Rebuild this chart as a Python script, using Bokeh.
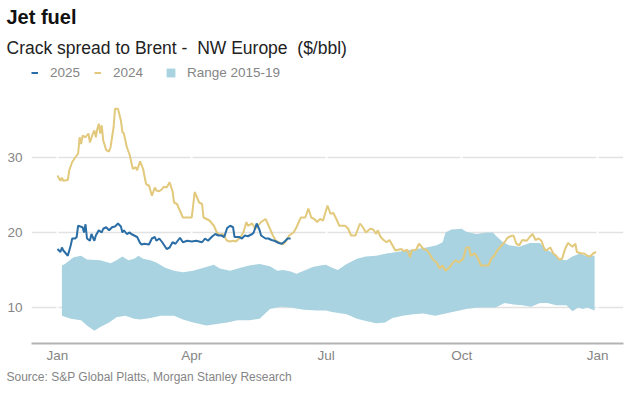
from bokeh.plotting import figure
from bokeh.models import Range1d, FixedTicker, Legend, LegendItem, Title, Grid
from bokeh.embed import file_html
from bokeh.resources import INLINE

TITLE = "Jet fuel"
SUBTITLE = "Crack spread to Brent -\u00a0 NW Europe\u00a0 ($/bbl)"
SOURCE = "Source: S&P Global Platts, Morgan Stanley Research"

TICK_DAYS = [0, 91, 182, 274, 366]
TICK_LABELS = ["Jan", "Apr", "Jul", "Oct", "Jan"]
Y_TICKS = [10, 20, 30]

# (day of year, $/bbl)
SERIES_2024 = [
    (0, 27.6), (2, 26.9), (3, 27.3), (4, 26.9), (7, 27.0), (8, 28.3), (10, 29.4), (12, 30.0),
    (14, 30.5), (15, 32.7), (16, 31.8), (17, 32.9), (19, 32.7), (21, 33.2), (22, 32.0), (24, 33.2),
    (25, 33.6), (26, 32.7), (27, 33.8), (28, 34.5), (29, 33.2), (30, 34.3), (31, 32.3), (33, 31.0),
    (35, 30.8), (36, 31.4), (38, 34.0), (39, 36.5), (41, 36.5), (43, 34.9), (44, 33.4), (45, 33.2),
    (47, 31.4), (49, 30.3), (51, 28.5), (53, 28.7), (54, 28.3), (56, 29.5), (58, 28.5), (60, 26.5),
    (61, 26.3), (62, 26.3), (64, 24.9), (66, 26.0), (67, 25.6), (69, 25.5), (71, 25.8), (72, 26.1),
    (74, 26.0), (76, 26.7), (78, 25.5), (79, 24.0), (81, 23.8), (83, 22.9), (85, 22.0), (88, 22.0),
    (91, 22.0), (93, 25.4), (96, 24.0), (98, 23.8), (99, 22.0), (101, 21.8), (103, 21.6), (106, 20.9),
    (108, 20.0), (110, 19.7), (112, 19.8), (115, 18.9), (117, 18.8), (119, 18.9), (121, 18.8),
    (124, 19.4), (126, 20.0), (128, 21.4), (129, 20.9), (132, 21.2), (134, 20.5), (136, 20.9),
    (138, 21.4), (141, 21.8), (142, 21.4), (144, 20.5), (146, 19.6), (148, 18.9), (151, 18.6),
    (153, 18.4), (155, 18.9), (157, 19.6), (160, 20.0), (162, 20.7), (164, 21.6), (165, 22.0),
    (168, 22.0), (170, 23.2), (172, 22.0), (174, 21.8), (176, 21.4), (178, 21.8), (180, 21.6),
    (183, 23.6), (185, 22.5), (187, 22.6), (189, 21.8), (191, 20.9), (195, 20.9), (197, 20.5),
    (199, 19.6), (202, 19.6), (205, 21.2), (207, 20.7), (209, 20.0), (212, 20.5), (214, 20.4),
    (216, 19.8), (217, 20.3), (219, 19.4), (221, 19.0), (223, 18.7), (225, 19.0), (227, 18.3),
    (229, 17.6), (231, 17.7), (233, 17.8), (235, 17.5), (237, 17.7), (239, 16.7), (240, 17.6),
    (243, 17.7), (245, 18.5), (248, 17.8), (250, 17.7), (252, 17.2), (254, 16.5), (257, 16.0),
    (259, 15.2), (261, 15.6), (263, 14.9), (266, 15.4), (268, 16.0), (270, 16.3), (272, 16.0),
    (275, 16.5), (277, 18.0), (279, 18.0), (280, 16.9), (283, 17.2), (285, 16.5), (287, 15.6),
    (289, 15.6), (292, 15.6), (294, 16.5), (296, 16.9), (298, 17.6), (301, 18.3), (303, 18.7),
    (305, 19.3), (307, 19.5), (309, 19.6), (311, 18.5), (313, 18.3), (315, 19.0), (318, 18.9),
    (320, 19.4), (322, 19.8), (324, 19.0), (326, 19.2), (328, 18.9), (330, 17.8), (331, 17.6),
    (334, 18.0), (336, 17.2), (338, 16.9), (340, 16.4), (342, 16.5), (344, 17.8), (346, 18.6),
    (349, 18.1), (351, 18.5), (352, 17.4), (355, 17.2), (357, 17.2), (359, 16.9), (361, 16.8),
    (363, 17.2), (365, 17.4),
]

SERIES_2025 = [
    (0, 17.8), (2, 17.4), (3, 18.0), (4, 17.6), (7, 16.9), (9, 18.3), (10, 19.2), (12, 19.2),
    (13, 19.4), (14, 20.9), (17, 20.7), (18, 20.0), (19, 21.1), (20, 19.2), (22, 18.9), (23, 19.8),
    (25, 18.9), (26, 19.6), (28, 20.3), (30, 20.0), (31, 20.5), (33, 20.7), (35, 20.3), (37, 20.7),
    (39, 20.8), (41, 21.2), (43, 20.8), (44, 20.0), (45, 20.3), (47, 19.8), (49, 20.0), (50, 19.8),
    (52, 19.6), (54, 19.4), (56, 18.6), (57, 18.4), (59, 18.5), (62, 18.4), (64, 19.2), (66, 19.4),
    (67, 18.9), (69, 19.2), (71, 18.7), (72, 18.4), (74, 17.8), (76, 18.0), (78, 18.7), (80, 18.5),
    (83, 19.3), (85, 18.7), (88, 18.9), (91, 18.8), (94, 18.9), (98, 18.7), (100, 19.2), (102, 18.9),
    (105, 19.5), (107, 19.8), (109, 19.6), (111, 19.6), (113, 19.4), (115, 20.6), (117, 20.9),
    (119, 20.7), (120, 19.4), (123, 19.4), (125, 19.2), (127, 19.6), (129, 19.5), (132, 19.8),
    (133, 20.0), (135, 21.2), (137, 20.3), (138, 19.6), (141, 19.2), (143, 19.2), (145, 19.0),
    (147, 18.9), (150, 18.6), (152, 18.5), (154, 18.8), (156, 19.2), (158, 19.2),
]

# Range 2015-19: upper and lower envelopes
RANGE_HIGH = [
    (3, 15.6), (5, 15.8), (11, 16.7), (16, 16.9), (20, 16.4), (29, 16.3), (36, 15.9), (40, 16.3),
    (44, 16.8), (48, 16.3), (52, 16.5), (55, 16.9), (58, 16.5), (63, 16.3), (67, 16.0), (73, 15.3),
    (79, 14.9), (85, 14.7), (92, 14.9), (99, 15.3), (106, 15.7), (110, 15.2), (117, 14.9), (124, 15.3),
    (130, 15.6), (137, 15.8), (144, 15.5), (149, 14.9), (153, 15.0), (158, 14.8), (162, 14.5),
    (167, 14.9), (173, 15.4), (178, 15.6), (182, 15.7), (185, 15.4), (190, 15.0), (196, 15.8),
    (203, 16.5), (209, 16.8), (216, 16.9), (223, 17.2), (230, 17.4), (236, 17.6), (243, 17.8),
    (250, 18.0), (257, 18.3), (261, 18.7), (263, 20.0), (267, 20.4), (274, 20.5), (277, 20.1),
    (284, 19.8), (291, 20.0), (295, 20.0), (298, 19.4), (302, 18.7), (306, 18.3), (313, 18.1),
    (320, 18.6), (327, 18.6), (331, 17.8), (336, 17.2), (340, 16.4), (345, 16.3), (349, 16.8),
    (354, 17.2), (358, 16.9), (364, 16.9),
]
RANGE_LOW = [
    (3, 8.9), (9, 8.5), (16, 8.3), (20, 7.6), (25, 6.9), (29, 7.4), (35, 8.0), (40, 8.7), (46, 8.9),
    (52, 8.5), (56, 8.4), (63, 8.6), (70, 8.9), (79, 8.9), (85, 8.4), (92, 8.0), (101, 7.6),
    (108, 7.8), (115, 8.0), (122, 8.3), (130, 8.3), (137, 8.5), (144, 9.8), (151, 10.1), (158, 10.0),
    (167, 9.7), (176, 9.6), (182, 9.6), (186, 9.4), (196, 9.1), (203, 8.5), (209, 8.2), (216, 7.9),
    (222, 8.0), (227, 8.6), (234, 8.9), (241, 9.1), (248, 9.2), (256, 8.9), (263, 9.2), (270, 9.5),
    (277, 9.8), (284, 10.0), (291, 10.0), (297, 10.0), (303, 10.6), (309, 10.4), (315, 10.3),
    (321, 10.1), (327, 10.6), (332, 10.6), (338, 10.3), (345, 10.3), (349, 9.5), (353, 10.0),
    (356, 9.8), (359, 10.0), (364, 9.6),
]

FONT = "Liberation Sans"
GREY = "#858585"

p = figure(width=627, height=394, output_backend="svg", toolbar_location=None, title=None,
           x_range=Range1d(-17.6, 383.6), y_range=Range1d(5.2, 42.4),
           min_border_left=31, min_border_right=4, min_border_top=64, min_border_bottom=51)
p.outline_line_color = None
p.background_fill_color = "white"
p.border_fill_color = "white"

# grids
p.ygrid.ticker = FixedTicker(ticks=Y_TICKS)
p.ygrid.grid_line_color = "#e2e2e2"
p.ygrid.grid_line_width = 1.5
p.xgrid.grid_line_color = None
gap = Grid(dimension=0, ticker=FixedTicker(ticks=TICK_DAYS), grid_line_color="white", grid_line_width=2)
p.add_layout(gap, "center")

# axes
p.xaxis.ticker = FixedTicker(ticks=TICK_DAYS)
p.xaxis.major_label_overrides = {d: lab for d, lab in zip(TICK_DAYS, TICK_LABELS)}
p.xaxis.axis_line_color = "#b3b3b3"
p.xaxis.axis_line_width = 2
p.xaxis.major_tick_line_color = None
p.xaxis.minor_tick_line_color = None
p.xaxis.major_tick_out = 0
p.xaxis.major_tick_in = 0
p.xaxis.major_label_standoff = 4
p.yaxis.ticker = FixedTicker(ticks=Y_TICKS)
p.yaxis.axis_line_color = None
p.yaxis.major_tick_line_color = None
p.yaxis.minor_tick_line_color = None
p.yaxis.major_tick_out = 0
p.yaxis.major_tick_in = 0
p.yaxis.major_label_standoff = 9
for ax in (p.xaxis, p.yaxis):
    ax.major_label_text_font = FONT
    ax.major_label_text_font_size = "13.5px"
    ax.major_label_text_color = GREY

# data
band_x = [d for d, _ in RANGE_HIGH] + [d for d, _ in reversed(RANGE_LOW)]
band_y = [v for _, v in RANGE_HIGH] + [v for _, v in reversed(RANGE_LOW)]
band = p.patch(band_x, band_y, fill_color="#a9d3e0", line_color=None)
l24 = p.line([d for d, _ in SERIES_2024], [v for _, v in SERIES_2024], line_color="#e2c97c", line_width=2)
l25 = p.line([d for d, _ in SERIES_2025], [v for _, v in SERIES_2025], line_color="#2b6ea6", line_width=2)

common = dict(orientation="horizontal", glyph_height=11, label_height=20, padding=2, margin=0,
              border_line_color=None, background_fill_alpha=0,
              label_text_font=FONT, label_text_font_size="13.5px", label_text_color=GREY)
legend_lines = Legend(items=[LegendItem(label="2025", renderers=[l25]),
                             LegendItem(label="2024", renderers=[l24])],
                      location=(0, 261), glyph_width=7, label_standoff=12, spacing=14, **common)
legend_band = Legend(items=[LegendItem(label="Range 2015-19", renderers=[band])],
                     location=(134, 261), glyph_width=11, label_standoff=11, **common)
p.add_layout(legend_lines)
p.add_layout(legend_band)

sub = Title(text=SUBTITLE, text_font=FONT, text_font_size="17.5px", text_font_style="normal",
            text_color="#222222", align="left", offset=-25, standoff=13)
p.add_layout(sub, "above")
main = Title(text=TITLE, text_font=FONT, text_font_size="20px", text_font_style="bold",
             text_color="#111111", align="left", offset=-25, standoff=4)
p.add_layout(main, "above")
src = Title(text=SOURCE, text_font=FONT, text_font_size="12px", text_font_style="normal",
            text_color=GREY, align="left", offset=-25, standoff=5)
p.add_layout(src, "below")

open("out.html", "w").write(file_html(p, INLINE))
